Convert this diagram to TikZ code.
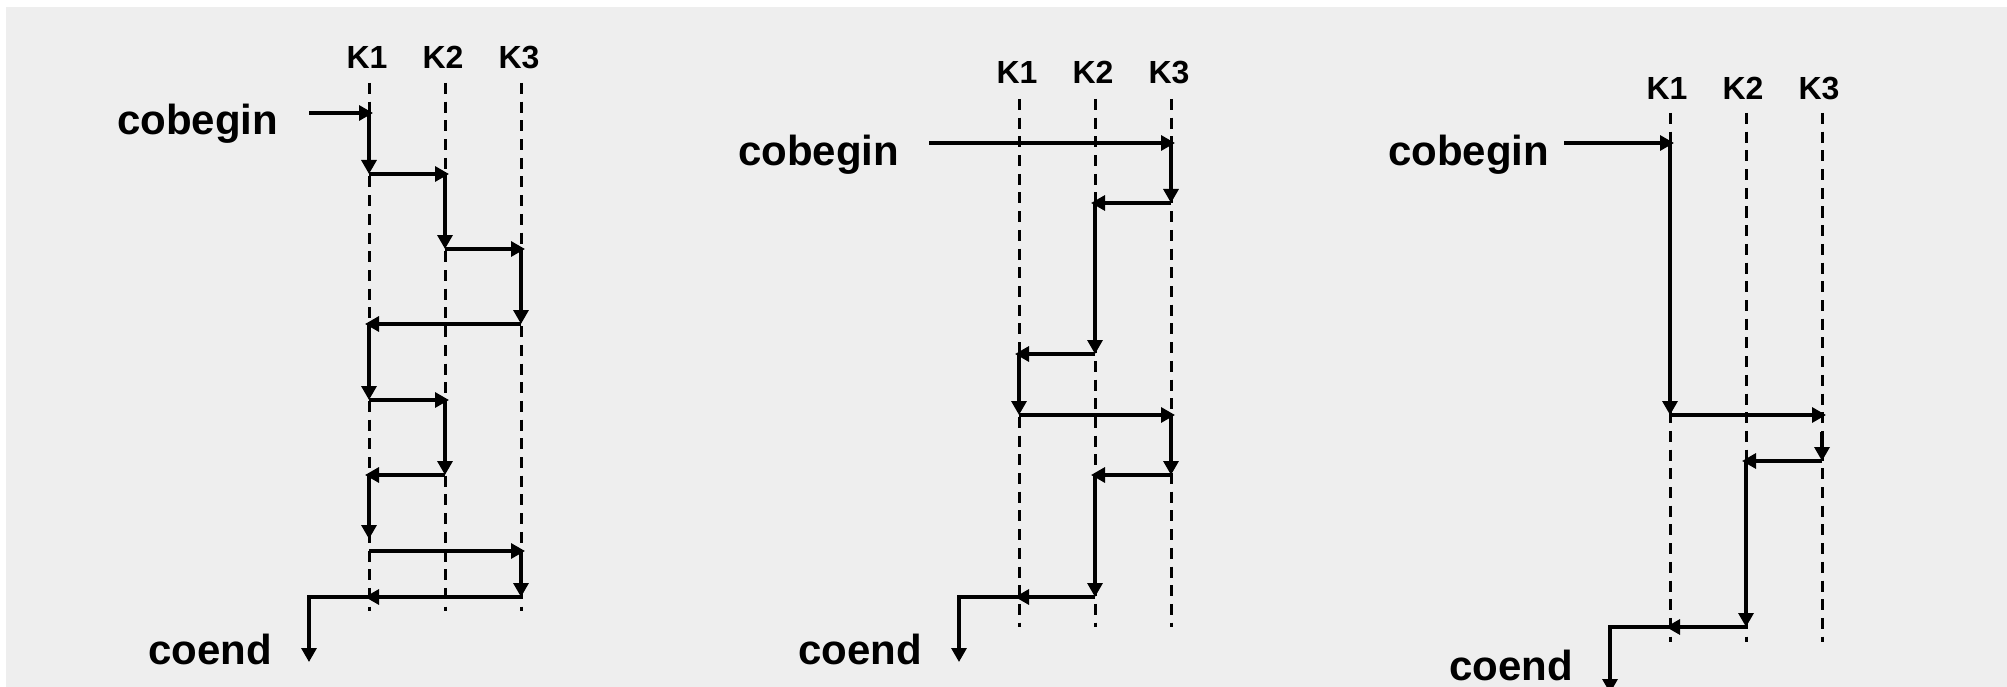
\documentclass[tikz,border=0pt]{standalone}
\usepackage{fontspec}
\setmainfont{Liberation Sans}
\usetikzlibrary{arrows.meta}
\definecolor{bg}{HTML}{EEEEEE}
\tikzset{
  lane/.style={line width=3pt, dash pattern=on 11pt off 7.7pt, black},
  flow/.style={line width=3.2pt, -{Triangle[length=14pt,width=15pt]}},
  hflow/.style={flow, shorten >=-4pt},
  klabel/.style={font=\fontsize{32}{36}\selectfont\bfseries, anchor=base, inner sep=0pt},
  kw/.style={font=\fontsize{42}{48}\selectfont\bfseries, anchor=base west, inner sep=0pt},
}
\begin{document}
\begin{tikzpicture}[x=1pt,y=-1pt]
\fill[white] (0,0) rectangle (2007,687);
\fill[bg] (6,7) rectangle (2007,687);
\useasboundingbox (0,0) rectangle (2007,687);
\clip (0,0) rectangle (2007,687);

% ---------------- Diagram 1 ----------------
\node[klabel] (A-K1) at (367,69) {K1};
\node[klabel] (A-K2) at (443,69) {K2};
\node[klabel] (A-K3) at (519,69) {K3};
\foreach \n/\x in {1/369,2/445,3/521}{
  \coordinate (A-t\n) at (\x,83);
  \coordinate (A-b\n) at (\x,611);
  \draw[lane] (A-t\n) -- (A-b\n);
}
\node[kw] (A-begin) at (117,134.5) {cobegin};
\node[kw] (A-end) at (148,664) {coend};
\coordinate (A-s) at (309,113);
\coordinate (A-p1) at (369,113);
\coordinate (A-p2) at (369,174);
\coordinate (A-p3) at (445,174);
\coordinate (A-p4) at (445,249);
\coordinate (A-p5) at (521,249);
\coordinate (A-p6) at (521,324);
\coordinate (A-p7) at (369,324);
\coordinate (A-p8) at (369,400);
\coordinate (A-p9) at (445,400);
\coordinate (A-p10) at (445,475);
\coordinate (A-p11) at (369,475);
\coordinate (A-p12) at (369,539);
\coordinate (A-p13) at (369,551);
\coordinate (A-p14) at (521,551);
\coordinate (A-p15) at (521,597);
\coordinate (A-p16) at (369,597);
\coordinate (A-e) at (309,662);
\draw[hflow] (A-s) -- (A-p1);
\draw[flow] (A-p1) -- (A-p2);
\draw[hflow] (A-p2) -- (A-p3);
\draw[flow] (A-p3) -- (A-p4);
\draw[hflow] (A-p4) -- (A-p5);
\draw[flow] (A-p5) -- (A-p6);
\draw[hflow] (A-p6) -- (A-p7);
\draw[flow] (A-p7) -- (A-p8);
\draw[hflow] (A-p8) -- (A-p9);
\draw[flow] (A-p9) -- (A-p10);
\draw[hflow] (A-p10) -- (A-p11);
\draw[flow] (A-p11) -- (A-p12);
\draw[hflow] (A-p13) -- (A-p14);
\draw[flow] (A-p14) -- (A-p15);
\draw[hflow] (A-p15) -- (A-p16);
\draw[flow] (A-p16) -| (A-e);

% ---------------- Diagram 2 ----------------
\node[klabel] (B-K1) at (1017,84) {K1};
\node[klabel] (B-K2) at (1093,84) {K2};
\node[klabel] (B-K3) at (1169,84) {K3};
\foreach \n/\x in {1/1019,2/1095,3/1171}{
  \coordinate (B-t\n) at (\x,99);
  \coordinate (B-b\n) at (\x,627);
  \draw[lane] (B-t\n) -- (B-b\n);
}
\node[kw] (B-begin) at (738,166) {cobegin};
\node[kw] (B-end) at (798,664) {coend};
\coordinate (B-s) at (929,143);
\coordinate (B-p1) at (1171,143);
\coordinate (B-p2) at (1171,203);
\coordinate (B-p3) at (1095,203);
\coordinate (B-p4) at (1095,354);
\coordinate (B-p5) at (1019,354);
\coordinate (B-p6) at (1019,415);
\coordinate (B-p7) at (1171,415);
\coordinate (B-p8) at (1171,475);
\coordinate (B-p9) at (1095,475);
\coordinate (B-p10) at (1095,597);
\coordinate (B-p11) at (1019,597);
\coordinate (B-e) at (959,662);
\draw[hflow] (B-s) -- (B-p1);
\draw[flow] (B-p1) -- (B-p2);
\draw[hflow] (B-p2) -- (B-p3);
\draw[flow] (B-p3) -- (B-p4);
\draw[hflow] (B-p4) -- (B-p5);
\draw[flow] (B-p5) -- (B-p6);
\draw[hflow] (B-p6) -- (B-p7);
\draw[flow] (B-p7) -- (B-p8);
\draw[hflow] (B-p8) -- (B-p9);
\draw[flow] (B-p9) -- (B-p10);
\draw[hflow] (B-p10) -- (B-p11);
\draw[flow] (B-p11) -| (B-e);

% ---------------- Diagram 3 ----------------
\node[klabel] (C-K1) at (1667,100) {K1};
\node[klabel] (C-K2) at (1743,100) {K2};
\node[klabel] (C-K3) at (1819,100) {K3};
\foreach \n/\x in {1/1670,2/1746,3/1822}{
  \coordinate (C-t\n) at (\x,113);
  \coordinate (C-b\n) at (\x,642);
  \draw[lane] (C-t\n) -- (C-b\n);
}
\node[kw] (C-begin) at (1388,166) {cobegin};
\node[kw] (C-end) at (1449,680) {coend};
\coordinate (C-s) at (1564,143);
\coordinate (C-p1) at (1670,143);
\coordinate (C-p2) at (1670,415);
\coordinate (C-p3) at (1822,415);
\coordinate (C-p4) at (1822,432);
\coordinate (C-p5) at (1822,461);
\coordinate (C-p6) at (1746,461);
\coordinate (C-p7) at (1746,627);
\coordinate (C-p8) at (1670,627);
\coordinate (C-e) at (1610,693);
\draw[hflow] (C-s) -- (C-p1);
\draw[flow] (C-p1) -- (C-p2);
\draw[hflow] (C-p2) -- (C-p3);
\draw[flow] (C-p4) -- (C-p5);
\draw[hflow] (C-p5) -- (C-p6);
\draw[flow] (C-p6) -- (C-p7);
\draw[hflow] (C-p7) -- (C-p8);
\draw[flow] (C-p8) -| (C-e);
\end{tikzpicture}
\end{document}
